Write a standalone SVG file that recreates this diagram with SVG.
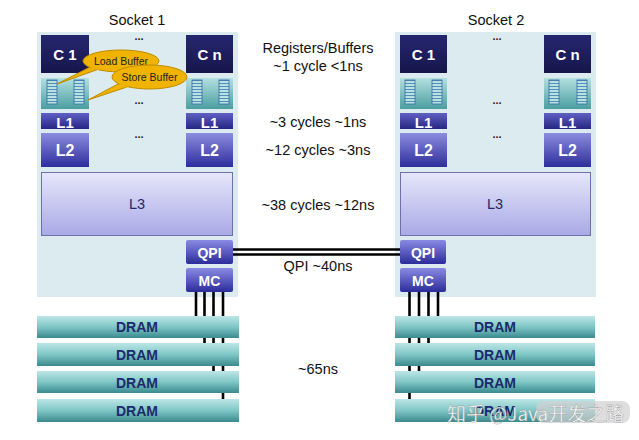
<svg xmlns="http://www.w3.org/2000/svg" width="639" height="440" viewBox="0 0 639 440">
<defs>
<linearGradient id="gCore" x1="0" y1="0" x2="0" y2="1"><stop offset="0" stop-color="#262670"/><stop offset="1" stop-color="#16164c"/></linearGradient>
<linearGradient id="gL1" x1="0" y1="0" x2="0" y2="1"><stop offset="0" stop-color="#6060c4"/><stop offset="1" stop-color="#262684"/></linearGradient>
<linearGradient id="gL2" x1="0" y1="0" x2="0" y2="1"><stop offset="0" stop-color="#8c8ce0"/><stop offset="1" stop-color="#2e2e9c"/></linearGradient>
<linearGradient id="gL3" x1="0" y1="0" x2="0" y2="1"><stop offset="0" stop-color="#e6e6fb"/><stop offset="1" stop-color="#a9a9e6"/></linearGradient>
<linearGradient id="gQ" x1="0" y1="0" x2="0" y2="1"><stop offset="0" stop-color="#8a8ae4"/><stop offset="1" stop-color="#2c2c9a"/></linearGradient>
<linearGradient id="gBuf" x1="0" y1="0" x2="0" y2="1"><stop offset="0" stop-color="#b4e0e0"/><stop offset="1" stop-color="#4a9ea0"/></linearGradient>
<linearGradient id="gDram" x1="0" y1="0" x2="0" y2="1"><stop offset="0" stop-color="#bde6e6"/><stop offset="0.5" stop-color="#7fc6c6"/><stop offset="1" stop-color="#3a8a8e"/></linearGradient>
<pattern id="stripes" width="10" height="3" patternUnits="userSpaceOnUse"><rect width="10" height="3" fill="#b8e2e2"/><line x1="0" y1="2.5" x2="10" y2="2.5" stroke="#3a7ab0" stroke-width="0.8"/></pattern>
</defs>
<style>
.panel{fill:#dbebef}
.core{fill:url(#gCore)}
.l1{fill:url(#gL1)}
.l2{fill:url(#gL2)}
.l3{fill:url(#gL3);stroke:#7070a8;stroke-width:1}
.q{fill:url(#gQ)}
.buf{fill:url(#gBuf)}
.icon{fill:url(#stripes);stroke:#3a6aa8;stroke-width:0.8}
.dram{fill:url(#gDram)}
.wt{font-family:"Liberation Sans",Arial,sans-serif;font-weight:bold;fill:#fff;text-anchor:middle}
.lbl{font-family:"Liberation Sans",Arial,sans-serif;fill:#111;text-anchor:middle;font-size:14.5px}
.dt{font-family:"Liberation Sans",Arial,sans-serif;font-weight:bold;fill:#1c2a6c;text-anchor:middle;font-size:14px}
.dots{font-family:"Liberation Sans",Arial,sans-serif;font-weight:bold;fill:#222;text-anchor:middle;font-size:11px}
.bus{stroke:#000;stroke-width:2.6;fill:none}
.call{fill:#f0b400;stroke:#c08a00;stroke-width:1}
.ct{font-family:"Liberation Sans",Arial,sans-serif;fill:#222;text-anchor:middle;font-size:10.5px}
</style>
<rect width="639" height="440" fill="#fff"/>

<g id="socket1">
<rect class="panel" x="37" y="32" width="201" height="265"/>
<text class="lbl" x="137" y="25" font-size="15">Socket 1</text>
<text class="dots" x="139" y="40">...</text>
<text class="dots" x="139" y="104">...</text>
<text class="dots" x="139" y="138">...</text>
</g>
<g id="socket2">
<rect class="panel" x="395" y="32" width="201" height="265"/>
<text class="lbl" x="496" y="25" font-size="15">Socket 2</text>
<text class="dots" x="497" y="40">...</text>
<text class="dots" x="497" y="104">...</text>
<text class="dots" x="497" y="138">...</text>
</g>

<g id="connectors">
<line class="bus" x1="233" y1="249.5" x2="400" y2="249.5"/>
<line class="bus" x1="233" y1="254.5" x2="400" y2="254.5" stroke-width="2.2"/>
<line class="bus" x1="196" y1="292" x2="196" y2="322"/>
<line class="bus" x1="204.5" y1="292" x2="204.5" y2="348"/>
<line class="bus" x1="213.5" y1="292" x2="213.5" y2="376"/>
<line class="bus" x1="223" y1="292" x2="223" y2="404"/>
<line class="bus" x1="438" y1="292" x2="438" y2="322"/>
<line class="bus" x1="428.5" y1="292" x2="428.5" y2="348"/>
<line class="bus" x1="419" y1="292" x2="419" y2="376"/>
<line class="bus" x1="409.5" y1="292" x2="409.5" y2="404"/>
</g>

<g id="s1-c1"><rect class="core" x="41" y="35" width="48" height="38"/><text class="wt" x="65" y="60" font-size="15">C 1</text></g>
<g id="s1-cn"><rect class="core" x="186" y="35" width="47" height="38"/><text class="wt" x="209.5" y="60" font-size="15">C n</text></g>
<g id="s1-buf1"><rect class="buf" x="41" y="78" width="48" height="31"/><rect class="icon" x="47" y="80" width="10" height="24"/><rect class="icon" x="74" y="80" width="10" height="24"/></g>
<g id="s1-bufn"><rect class="buf" x="186" y="78" width="47" height="31"/><rect class="icon" x="192" y="80" width="10" height="24"/><rect class="icon" x="219" y="80" width="10" height="24"/></g>
<g id="s1-l1a"><rect class="l1" x="41" y="113" width="48" height="16"/><text class="wt" x="65" y="127.5" font-size="15">L1</text></g>
<g id="s1-l1n"><rect class="l1" x="186" y="113" width="47" height="16"/><text class="wt" x="209.5" y="127.5" font-size="15">L1</text></g>
<g id="s1-l2a"><rect class="l2" x="41" y="133" width="48" height="34"/><text class="wt" x="65" y="155.5" font-size="16">L2</text></g>
<g id="s1-l2n"><rect class="l2" x="186" y="133" width="47" height="34"/><text class="wt" x="209.5" y="155.5" font-size="16">L2</text></g>
<g id="s1-l3"><rect class="l3" x="41.5" y="172.5" width="191" height="63"/><text class="lbl" x="137" y="209" style="fill:#26266c">L3</text></g>
<g id="s1-qpi"><rect class="q" x="186" y="240" width="47" height="24" rx="2"/><text class="wt" x="209.5" y="258" font-size="14">QPI</text></g>
<g id="s1-mc"><rect class="q" x="186" y="268" width="47" height="24" rx="2"/><text class="wt" x="209.5" y="286" font-size="14">MC</text></g>

<g id="s2-c1"><rect class="core" x="400" y="35" width="47" height="38"/><text class="wt" x="423.5" y="60" font-size="15">C 1</text></g>
<g id="s2-cn"><rect class="core" x="544" y="35" width="47" height="38"/><text class="wt" x="567.5" y="60" font-size="15">C n</text></g>
<g id="s2-buf1"><rect class="buf" x="400" y="78" width="47" height="31"/><rect class="icon" x="405" y="80" width="10" height="24"/><rect class="icon" x="432" y="80" width="10" height="24"/></g>
<g id="s2-bufn"><rect class="buf" x="544" y="78" width="47" height="31"/><rect class="icon" x="549" y="80" width="10" height="24"/><rect class="icon" x="577" y="80" width="10" height="24"/></g>
<g id="s2-l1a"><rect class="l1" x="400" y="113" width="47" height="16"/><text class="wt" x="423.5" y="127.5" font-size="15">L1</text></g>
<g id="s2-l1n"><rect class="l1" x="544" y="113" width="47" height="16"/><text class="wt" x="567.5" y="127.5" font-size="15">L1</text></g>
<g id="s2-l2a"><rect class="l2" x="400" y="133" width="47" height="34"/><text class="wt" x="423.5" y="155.5" font-size="16">L2</text></g>
<g id="s2-l2n"><rect class="l2" x="544" y="133" width="47" height="34"/><text class="wt" x="567.5" y="155.5" font-size="16">L2</text></g>
<g id="s2-l3"><rect class="l3" x="400.5" y="172.5" width="190" height="63"/><text class="lbl" x="495" y="209" style="fill:#26266c">L3</text></g>
<g id="s2-qpi"><rect class="q" x="400" y="240" width="46" height="24" rx="2"/><text class="wt" x="423" y="258" font-size="14">QPI</text></g>
<g id="s2-mc"><rect class="q" x="400" y="268" width="46" height="24" rx="2"/><text class="wt" x="423" y="286" font-size="14">MC</text></g>

<g id="s1-dram1"><rect class="dram" x="37" y="316" width="202" height="22"/><text class="dt" x="137" y="332">DRAM</text></g>
<g id="s1-dram2"><rect class="dram" x="37" y="343" width="202" height="23"/><text class="dt" x="137" y="360">DRAM</text></g>
<g id="s1-dram3"><rect class="dram" x="37" y="371" width="202" height="22"/><text class="dt" x="137" y="387.5">DRAM</text></g>
<g id="s1-dram4"><rect class="dram" x="37" y="399" width="202" height="23"/><text class="dt" x="137" y="415.5">DRAM</text></g>
<g id="s2-dram1"><rect class="dram" x="395" y="316" width="200" height="22"/><text class="dt" x="495" y="332">DRAM</text></g>
<g id="s2-dram2"><rect class="dram" x="395" y="343" width="200" height="23"/><text class="dt" x="495" y="360">DRAM</text></g>
<g id="s2-dram3"><rect class="dram" x="395" y="371" width="200" height="22"/><text class="dt" x="495" y="387.5">DRAM</text></g>
<g id="s2-dram4"><rect class="dram" x="395" y="399" width="200" height="23"/><text class="dt" x="495" y="415.5">DRAM</text></g>

<g id="latencies">
<text class="lbl" x="318" y="53">Registers/Buffers</text>
<text class="lbl" x="318" y="71">~1 cycle &lt;1ns</text>
<text class="lbl" x="318" y="127">~3 cycles ~1ns</text>
<text class="lbl" x="318" y="155">~12 cycles ~3ns</text>
<text class="lbl" x="318" y="210">~38 cycles ~12ns</text>
<text class="lbl" x="318" y="271">QPI ~40ns</text>
<text class="lbl" x="318" y="374">~65ns</text>
</g>

<g id="load-buffer">
<path class="call" d="M90,67 L57,84 L99,69 Z"/>
<ellipse class="call" cx="121" cy="61" rx="38" ry="11"/>
<path d="M91,67.5 L99,69" stroke="#f0b400" stroke-width="2"/>
<text class="ct" x="121" y="64.5">Load Buffer</text>
</g>
<g id="store-buffer">
<path class="call" d="M118,84 L88,100 L127,87 Z"/>
<ellipse class="call" cx="149.5" cy="77" rx="37.5" ry="12"/>
<path d="M119,84.5 L127,87" stroke="#f0b400" stroke-width="2"/>
<text class="ct" x="149.5" y="81">Store Buffer</text>
</g>

<g id="watermark">
<rect x="536" y="401" width="94" height="22" rx="8" fill="#d0d0d0" opacity="0.7"/>
<text x="447" y="421" font-family="'Noto Sans CJK SC','Liberation Sans',sans-serif" font-size="19" fill="#fff" stroke="#888" stroke-width="0.3" opacity="0.95">知乎 @Java开发之路</text>
</g>
</svg>
